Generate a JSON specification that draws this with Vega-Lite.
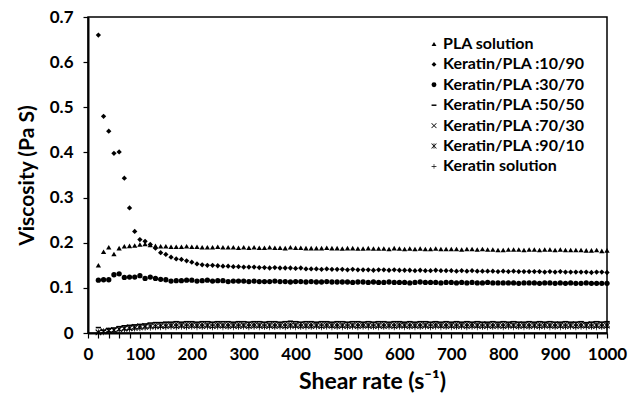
{
  "$schema": "https://vega.github.io/schema/vega-lite/v6.json",
  "width": 519,
  "height": 316,
  "autosize": {"type": "none"},
  "padding": {"left": 88, "top": 17, "right": 21, "bottom": 70},
  "background": "white",
  "config": {
    "font": "Lato",
    "view": {"stroke": "black", "strokeWidth": 1.5},
    "axis": {"grid": false, "domainColor": "black", "domainWidth": 2, "tickColor": "black", "tickWidth": 1.2, "labelFont": "Lato", "labelFontWeight": "bold", "labelColor": "black", "titleFont": "Lato", "titleFontWeight": "bold", "titleColor": "black"}
  },
  "datasets": {
    "series": [
      {"s": "P", "name": "PLA solution"},
      {"s": "k1", "name": "Keratin/PLA :10/90"},
      {"s": "k3", "name": "Keratin/PLA :30/70"},
      {"s": "k5", "name": "Keratin/PLA :50/50"},
      {"s": "k7", "name": "Keratin/PLA :70/30"},
      {"s": "k9", "name": "Keratin/PLA :90/10"},
      {"s": "K", "name": "Keratin solution"}
    ],
    "rheology": [
      {"x":20,"s":"P","v":0.150},{"x":30,"s":"P","v":0.180},{"x":40,"s":"P","v":0.190},{"x":50,"s":"P","v":0.175},{"x":60,"s":"P","v":0.188},{"x":70,"s":"P","v":0.192},{"x":80,"s":"P","v":0.193},{"x":90,"s":"P","v":0.194},{"x":100,"s":"P","v":0.196},{"x":110,"s":"P","v":0.197},{"x":120,"s":"P","v":0.195},{"x":130,"s":"P","v":0.193},{"x":140,"s":"P","v":0.192},{"x":150,"s":"P","v":0.192},{"x":160,"s":"P","v":0.191},{"x":170,"s":"P","v":0.191},{"x":180,"s":"P","v":0.191},{"x":190,"s":"P","v":0.192},{"x":200,"s":"P","v":0.191},{"x":210,"s":"P","v":0.191},{"x":220,"s":"P","v":0.190},{"x":230,"s":"P","v":0.190},{"x":240,"s":"P","v":0.190},{"x":250,"s":"P","v":0.191},{"x":260,"s":"P","v":0.190},{"x":270,"s":"P","v":0.190},{"x":280,"s":"P","v":0.190},{"x":290,"s":"P","v":0.189},{"x":300,"s":"P","v":0.190},{"x":310,"s":"P","v":0.189},{"x":320,"s":"P","v":0.190},{"x":330,"s":"P","v":0.189},{"x":340,"s":"P","v":0.189},{"x":350,"s":"P","v":0.190},{"x":360,"s":"P","v":0.189},{"x":370,"s":"P","v":0.189},{"x":380,"s":"P","v":0.188},{"x":390,"s":"P","v":0.190},{"x":400,"s":"P","v":0.189},{"x":410,"s":"P","v":0.189},{"x":420,"s":"P","v":0.188},{"x":430,"s":"P","v":0.188},{"x":440,"s":"P","v":0.188},{"x":450,"s":"P","v":0.188},{"x":460,"s":"P","v":0.189},{"x":470,"s":"P","v":0.188},{"x":480,"s":"P","v":0.188},{"x":490,"s":"P","v":0.187},{"x":500,"s":"P","v":0.188},{"x":510,"s":"P","v":0.188},{"x":520,"s":"P","v":0.187},{"x":530,"s":"P","v":0.187},{"x":540,"s":"P","v":0.188},{"x":550,"s":"P","v":0.187},{"x":560,"s":"P","v":0.187},{"x":570,"s":"P","v":0.187},{"x":580,"s":"P","v":0.186},{"x":590,"s":"P","v":0.188},{"x":600,"s":"P","v":0.187},{"x":610,"s":"P","v":0.186},{"x":620,"s":"P","v":0.187},{"x":630,"s":"P","v":0.186},{"x":640,"s":"P","v":0.187},{"x":650,"s":"P","v":0.186},{"x":660,"s":"P","v":0.186},{"x":670,"s":"P","v":0.187},{"x":680,"s":"P","v":0.186},{"x":690,"s":"P","v":0.186},{"x":700,"s":"P","v":0.186},{"x":710,"s":"P","v":0.186},{"x":720,"s":"P","v":0.185},{"x":730,"s":"P","v":0.186},{"x":740,"s":"P","v":0.186},{"x":750,"s":"P","v":0.185},{"x":760,"s":"P","v":0.186},{"x":770,"s":"P","v":0.185},{"x":780,"s":"P","v":0.185},{"x":790,"s":"P","v":0.184},{"x":800,"s":"P","v":0.184},{"x":810,"s":"P","v":0.185},{"x":820,"s":"P","v":0.185},{"x":830,"s":"P","v":0.185},{"x":840,"s":"P","v":0.184},{"x":850,"s":"P","v":0.185},{"x":860,"s":"P","v":0.185},{"x":870,"s":"P","v":0.184},{"x":880,"s":"P","v":0.185},{"x":890,"s":"P","v":0.185},{"x":900,"s":"P","v":0.184},{"x":910,"s":"P","v":0.185},{"x":920,"s":"P","v":0.184},{"x":930,"s":"P","v":0.184},{"x":940,"s":"P","v":0.184},{"x":950,"s":"P","v":0.184},{"x":960,"s":"P","v":0.183},{"x":970,"s":"P","v":0.183},{"x":980,"s":"P","v":0.184},{"x":990,"s":"P","v":0.182},{"x":1000,"s":"P","v":0.183},

      {"x":20,"s":"k1","v":0.660},{"x":30,"s":"k1","v":0.480},{"x":40,"s":"k1","v":0.447},{"x":50,"s":"k1","v":0.398},{"x":60,"s":"k1","v":0.401},{"x":70,"s":"k1","v":0.343},{"x":80,"s":"k1","v":0.277},{"x":90,"s":"k1","v":0.225},{"x":100,"s":"k1","v":0.207},{"x":110,"s":"k1","v":0.203},{"x":120,"s":"k1","v":0.196},{"x":130,"s":"k1","v":0.188},{"x":140,"s":"k1","v":0.178},{"x":150,"s":"k1","v":0.174},{"x":160,"s":"k1","v":0.168},{"x":170,"s":"k1","v":0.164},{"x":180,"s":"k1","v":0.163},{"x":190,"s":"k1","v":0.160},{"x":200,"s":"k1","v":0.157},{"x":210,"s":"k1","v":0.153},{"x":220,"s":"k1","v":0.151},{"x":230,"s":"k1","v":0.150},{"x":240,"s":"k1","v":0.150},{"x":250,"s":"k1","v":0.149},{"x":260,"s":"k1","v":0.148},{"x":270,"s":"k1","v":0.148},{"x":280,"s":"k1","v":0.147},{"x":290,"s":"k1","v":0.147},{"x":300,"s":"k1","v":0.146},{"x":310,"s":"k1","v":0.146},{"x":320,"s":"k1","v":0.146},{"x":330,"s":"k1","v":0.145},{"x":340,"s":"k1","v":0.145},{"x":350,"s":"k1","v":0.144},{"x":360,"s":"k1","v":0.145},{"x":370,"s":"k1","v":0.144},{"x":380,"s":"k1","v":0.144},{"x":390,"s":"k1","v":0.144},{"x":400,"s":"k1","v":0.143},{"x":410,"s":"k1","v":0.144},{"x":420,"s":"k1","v":0.142},{"x":430,"s":"k1","v":0.142},{"x":440,"s":"k1","v":0.142},{"x":450,"s":"k1","v":0.141},{"x":460,"s":"k1","v":0.142},{"x":470,"s":"k1","v":0.141},{"x":480,"s":"k1","v":0.141},{"x":490,"s":"k1","v":0.141},{"x":500,"s":"k1","v":0.140},{"x":510,"s":"k1","v":0.141},{"x":520,"s":"k1","v":0.140},{"x":530,"s":"k1","v":0.140},{"x":540,"s":"k1","v":0.140},{"x":550,"s":"k1","v":0.139},{"x":560,"s":"k1","v":0.140},{"x":570,"s":"k1","v":0.140},{"x":580,"s":"k1","v":0.139},{"x":590,"s":"k1","v":0.140},{"x":600,"s":"k1","v":0.139},{"x":610,"s":"k1","v":0.139},{"x":620,"s":"k1","v":0.139},{"x":630,"s":"k1","v":0.138},{"x":640,"s":"k1","v":0.139},{"x":650,"s":"k1","v":0.138},{"x":660,"s":"k1","v":0.138},{"x":670,"s":"k1","v":0.139},{"x":680,"s":"k1","v":0.138},{"x":690,"s":"k1","v":0.138},{"x":700,"s":"k1","v":0.138},{"x":710,"s":"k1","v":0.137},{"x":720,"s":"k1","v":0.138},{"x":730,"s":"k1","v":0.137},{"x":740,"s":"k1","v":0.138},{"x":750,"s":"k1","v":0.137},{"x":760,"s":"k1","v":0.137},{"x":770,"s":"k1","v":0.137},{"x":780,"s":"k1","v":0.137},{"x":790,"s":"k1","v":0.136},{"x":800,"s":"k1","v":0.137},{"x":810,"s":"k1","v":0.136},{"x":820,"s":"k1","v":0.137},{"x":830,"s":"k1","v":0.136},{"x":840,"s":"k1","v":0.136},{"x":850,"s":"k1","v":0.136},{"x":860,"s":"k1","v":0.136},{"x":870,"s":"k1","v":0.136},{"x":880,"s":"k1","v":0.135},{"x":890,"s":"k1","v":0.136},{"x":900,"s":"k1","v":0.135},{"x":910,"s":"k1","v":0.136},{"x":920,"s":"k1","v":0.135},{"x":930,"s":"k1","v":0.135},{"x":940,"s":"k1","v":0.135},{"x":950,"s":"k1","v":0.135},{"x":960,"s":"k1","v":0.135},{"x":970,"s":"k1","v":0.134},{"x":980,"s":"k1","v":0.135},{"x":990,"s":"k1","v":0.135},{"x":1000,"s":"k1","v":0.134},

      {"x":20,"s":"k3","v":0.117},{"x":30,"s":"k3","v":0.118},{"x":40,"s":"k3","v":0.118},{"x":50,"s":"k3","v":0.129},{"x":60,"s":"k3","v":0.131},{"x":70,"s":"k3","v":0.123},{"x":80,"s":"k3","v":0.124},{"x":90,"s":"k3","v":0.124},{"x":100,"s":"k3","v":0.127},{"x":110,"s":"k3","v":0.121},{"x":120,"s":"k3","v":0.124},{"x":130,"s":"k3","v":0.121},{"x":140,"s":"k3","v":0.119},{"x":150,"s":"k3","v":0.118},{"x":160,"s":"k3","v":0.115},{"x":170,"s":"k3","v":0.116},{"x":180,"s":"k3","v":0.116},{"x":190,"s":"k3","v":0.117},{"x":200,"s":"k3","v":0.117},{"x":210,"s":"k3","v":0.115},{"x":220,"s":"k3","v":0.116},{"x":230,"s":"k3","v":0.117},{"x":240,"s":"k3","v":0.115},{"x":250,"s":"k3","v":0.116},{"x":260,"s":"k3","v":0.116},{"x":270,"s":"k3","v":0.114},{"x":280,"s":"k3","v":0.115},{"x":290,"s":"k3","v":0.115},{"x":300,"s":"k3","v":0.115},{"x":310,"s":"k3","v":0.114},{"x":320,"s":"k3","v":0.115},{"x":330,"s":"k3","v":0.114},{"x":340,"s":"k3","v":0.114},{"x":350,"s":"k3","v":0.114},{"x":360,"s":"k3","v":0.115},{"x":370,"s":"k3","v":0.114},{"x":380,"s":"k3","v":0.114},{"x":390,"s":"k3","v":0.113},{"x":400,"s":"k3","v":0.114},{"x":410,"s":"k3","v":0.114},{"x":420,"s":"k3","v":0.113},{"x":430,"s":"k3","v":0.114},{"x":440,"s":"k3","v":0.113},{"x":450,"s":"k3","v":0.113},{"x":460,"s":"k3","v":0.114},{"x":470,"s":"k3","v":0.113},{"x":480,"s":"k3","v":0.113},{"x":490,"s":"k3","v":0.113},{"x":500,"s":"k3","v":0.113},{"x":510,"s":"k3","v":0.112},{"x":520,"s":"k3","v":0.113},{"x":530,"s":"k3","v":0.113},{"x":540,"s":"k3","v":0.112},{"x":550,"s":"k3","v":0.113},{"x":560,"s":"k3","v":0.112},{"x":570,"s":"k3","v":0.112},{"x":580,"s":"k3","v":0.113},{"x":590,"s":"k3","v":0.112},{"x":600,"s":"k3","v":0.112},{"x":610,"s":"k3","v":0.112},{"x":620,"s":"k3","v":0.111},{"x":630,"s":"k3","v":0.112},{"x":640,"s":"k3","v":0.113},{"x":650,"s":"k3","v":0.112},{"x":660,"s":"k3","v":0.112},{"x":670,"s":"k3","v":0.112},{"x":680,"s":"k3","v":0.111},{"x":690,"s":"k3","v":0.112},{"x":700,"s":"k3","v":0.112},{"x":710,"s":"k3","v":0.111},{"x":720,"s":"k3","v":0.112},{"x":730,"s":"k3","v":0.111},{"x":740,"s":"k3","v":0.112},{"x":750,"s":"k3","v":0.111},{"x":760,"s":"k3","v":0.111},{"x":770,"s":"k3","v":0.112},{"x":780,"s":"k3","v":0.111},{"x":790,"s":"k3","v":0.111},{"x":800,"s":"k3","v":0.111},{"x":810,"s":"k3","v":0.111},{"x":820,"s":"k3","v":0.111},{"x":830,"s":"k3","v":0.110},{"x":840,"s":"k3","v":0.111},{"x":850,"s":"k3","v":0.111},{"x":860,"s":"k3","v":0.111},{"x":870,"s":"k3","v":0.110},{"x":880,"s":"k3","v":0.111},{"x":890,"s":"k3","v":0.111},{"x":900,"s":"k3","v":0.110},{"x":910,"s":"k3","v":0.111},{"x":920,"s":"k3","v":0.110},{"x":930,"s":"k3","v":0.111},{"x":940,"s":"k3","v":0.110},{"x":950,"s":"k3","v":0.110},{"x":960,"s":"k3","v":0.111},{"x":970,"s":"k3","v":0.110},{"x":980,"s":"k3","v":0.110},{"x":990,"s":"k3","v":0.110},{"x":1000,"s":"k3","v":0.110},

      {"x":20,"s":"k5","v":0.012},{"x":30,"s":"k5","v":0.006},{"x":40,"s":"k5","v":0.010},{"x":50,"s":"k5","v":0.011},{"x":60,"s":"k5","v":0.014},{"x":70,"s":"k5","v":0.016},{"x":80,"s":"k5","v":0.017},{"x":90,"s":"k5","v":0.018},{"x":100,"s":"k5","v":0.019},{"x":110,"s":"k5","v":0.020},{"x":120,"s":"k5","v":0.022},{"x":130,"s":"k5","v":0.023},{"x":140,"s":"k5","v":0.023},{"x":150,"s":"k5","v":0.024},{"x":160,"s":"k5","v":0.024},{"x":170,"s":"k5","v":0.025},{"x":180,"s":"k5","v":0.024},{"x":190,"s":"k5","v":0.025},{"x":200,"s":"k5","v":0.025},{"x":210,"s":"k5","v":0.024},{"x":220,"s":"k5","v":0.025},{"x":230,"s":"k5","v":0.025},{"x":240,"s":"k5","v":0.024},{"x":250,"s":"k5","v":0.025},{"x":260,"s":"k5","v":0.025},{"x":270,"s":"k5","v":0.025},{"x":280,"s":"k5","v":0.024},{"x":290,"s":"k5","v":0.025},{"x":300,"s":"k5","v":0.025},{"x":310,"s":"k5","v":0.024},{"x":320,"s":"k5","v":0.025},{"x":330,"s":"k5","v":0.025},{"x":340,"s":"k5","v":0.024},{"x":350,"s":"k5","v":0.025},{"x":360,"s":"k5","v":0.025},{"x":370,"s":"k5","v":0.024},{"x":380,"s":"k5","v":0.025},{"x":390,"s":"k5","v":0.026},{"x":400,"s":"k5","v":0.025},{"x":410,"s":"k5","v":0.024},{"x":420,"s":"k5","v":0.025},{"x":430,"s":"k5","v":0.025},{"x":440,"s":"k5","v":0.024},{"x":450,"s":"k5","v":0.025},{"x":460,"s":"k5","v":0.025},{"x":470,"s":"k5","v":0.024},{"x":480,"s":"k5","v":0.025},{"x":490,"s":"k5","v":0.025},{"x":500,"s":"k5","v":0.024},{"x":510,"s":"k5","v":0.025},{"x":520,"s":"k5","v":0.025},{"x":530,"s":"k5","v":0.024},{"x":540,"s":"k5","v":0.025},{"x":550,"s":"k5","v":0.024},{"x":560,"s":"k5","v":0.025},{"x":570,"s":"k5","v":0.025},{"x":580,"s":"k5","v":0.024},{"x":590,"s":"k5","v":0.025},{"x":600,"s":"k5","v":0.025},{"x":610,"s":"k5","v":0.024},{"x":620,"s":"k5","v":0.025},{"x":630,"s":"k5","v":0.024},{"x":640,"s":"k5","v":0.025},{"x":650,"s":"k5","v":0.025},{"x":660,"s":"k5","v":0.024},{"x":670,"s":"k5","v":0.025},{"x":680,"s":"k5","v":0.024},{"x":690,"s":"k5","v":0.025},{"x":700,"s":"k5","v":0.024},{"x":710,"s":"k5","v":0.025},{"x":720,"s":"k5","v":0.024},{"x":730,"s":"k5","v":0.025},{"x":740,"s":"k5","v":0.024},{"x":750,"s":"k5","v":0.025},{"x":760,"s":"k5","v":0.024},{"x":770,"s":"k5","v":0.024},{"x":780,"s":"k5","v":0.025},{"x":790,"s":"k5","v":0.024},{"x":800,"s":"k5","v":0.025},{"x":810,"s":"k5","v":0.024},{"x":820,"s":"k5","v":0.025},{"x":830,"s":"k5","v":0.024},{"x":840,"s":"k5","v":0.024},{"x":850,"s":"k5","v":0.025},{"x":860,"s":"k5","v":0.024},{"x":870,"s":"k5","v":0.025},{"x":880,"s":"k5","v":0.024},{"x":890,"s":"k5","v":0.025},{"x":900,"s":"k5","v":0.024},{"x":910,"s":"k5","v":0.024},{"x":920,"s":"k5","v":0.025},{"x":930,"s":"k5","v":0.024},{"x":940,"s":"k5","v":0.024},{"x":950,"s":"k5","v":0.025},{"x":960,"s":"k5","v":0.023},{"x":970,"s":"k5","v":0.024},{"x":980,"s":"k5","v":0.025},{"x":990,"s":"k5","v":0.024},{"x":1000,"s":"k5","v":0.025},

      {"x":20,"s":"k7","v":0.001},{"x":30,"s":"k7","v":0.003},{"x":40,"s":"k7","v":0.005},{"x":50,"s":"k7","v":0.007},{"x":60,"s":"k7","v":0.009},{"x":70,"s":"k7","v":0.011},{"x":80,"s":"k7","v":0.013},{"x":90,"s":"k7","v":0.014},{"x":100,"s":"k7","v":0.015},{"x":110,"s":"k7","v":0.016},{"x":120,"s":"k7","v":0.017},{"x":130,"s":"k7","v":0.018},{"x":140,"s":"k7","v":0.018},{"x":150,"s":"k7","v":0.019},{"x":160,"s":"k7","v":0.019},{"x":170,"s":"k7","v":0.020},{"x":180,"s":"k7","v":0.019},{"x":190,"s":"k7","v":0.020},{"x":200,"s":"k7","v":0.020},{"x":210,"s":"k7","v":0.019},{"x":220,"s":"k7","v":0.020},{"x":230,"s":"k7","v":0.019},{"x":240,"s":"k7","v":0.020},{"x":250,"s":"k7","v":0.020},{"x":260,"s":"k7","v":0.019},{"x":270,"s":"k7","v":0.020},{"x":280,"s":"k7","v":0.019},{"x":290,"s":"k7","v":0.020},{"x":300,"s":"k7","v":0.019},{"x":310,"s":"k7","v":0.020},{"x":320,"s":"k7","v":0.020},{"x":330,"s":"k7","v":0.019},{"x":340,"s":"k7","v":0.020},{"x":350,"s":"k7","v":0.019},{"x":360,"s":"k7","v":0.020},{"x":370,"s":"k7","v":0.019},{"x":380,"s":"k7","v":0.020},{"x":390,"s":"k7","v":0.020},{"x":400,"s":"k7","v":0.019},{"x":410,"s":"k7","v":0.020},{"x":420,"s":"k7","v":0.019},{"x":430,"s":"k7","v":0.020},{"x":440,"s":"k7","v":0.019},{"x":450,"s":"k7","v":0.020},{"x":460,"s":"k7","v":0.020},{"x":470,"s":"k7","v":0.019},{"x":480,"s":"k7","v":0.020},{"x":490,"s":"k7","v":0.019},{"x":500,"s":"k7","v":0.020},{"x":510,"s":"k7","v":0.019},{"x":520,"s":"k7","v":0.020},{"x":530,"s":"k7","v":0.020},{"x":540,"s":"k7","v":0.019},{"x":550,"s":"k7","v":0.020},{"x":560,"s":"k7","v":0.019},{"x":570,"s":"k7","v":0.020},{"x":580,"s":"k7","v":0.019},{"x":590,"s":"k7","v":0.020},{"x":600,"s":"k7","v":0.020},{"x":610,"s":"k7","v":0.019},{"x":620,"s":"k7","v":0.020},{"x":630,"s":"k7","v":0.019},{"x":640,"s":"k7","v":0.020},{"x":650,"s":"k7","v":0.019},{"x":660,"s":"k7","v":0.020},{"x":670,"s":"k7","v":0.020},{"x":680,"s":"k7","v":0.019},{"x":690,"s":"k7","v":0.020},{"x":700,"s":"k7","v":0.019},{"x":710,"s":"k7","v":0.020},{"x":720,"s":"k7","v":0.019},{"x":730,"s":"k7","v":0.020},{"x":740,"s":"k7","v":0.020},{"x":750,"s":"k7","v":0.019},{"x":760,"s":"k7","v":0.020},{"x":770,"s":"k7","v":0.019},{"x":780,"s":"k7","v":0.020},{"x":790,"s":"k7","v":0.019},{"x":800,"s":"k7","v":0.020},{"x":810,"s":"k7","v":0.020},{"x":820,"s":"k7","v":0.019},{"x":830,"s":"k7","v":0.020},{"x":840,"s":"k7","v":0.019},{"x":850,"s":"k7","v":0.020},{"x":860,"s":"k7","v":0.019},{"x":870,"s":"k7","v":0.020},{"x":880,"s":"k7","v":0.020},{"x":890,"s":"k7","v":0.019},{"x":900,"s":"k7","v":0.020},{"x":910,"s":"k7","v":0.019},{"x":920,"s":"k7","v":0.020},{"x":930,"s":"k7","v":0.019},{"x":940,"s":"k7","v":0.020},{"x":950,"s":"k7","v":0.020},{"x":960,"s":"k7","v":0.019},{"x":970,"s":"k7","v":0.020},{"x":980,"s":"k7","v":0.019},{"x":990,"s":"k7","v":0.020},{"x":1000,"s":"k7","v":0.019},

      {"x":20,"s":"k9","v":0.002},{"x":30,"s":"k9","v":0.004},{"x":40,"s":"k9","v":0.005},{"x":50,"s":"k9","v":0.006},{"x":60,"s":"k9","v":0.008},{"x":70,"s":"k9","v":0.009},{"x":80,"s":"k9","v":0.010},{"x":90,"s":"k9","v":0.011},{"x":100,"s":"k9","v":0.012},{"x":110,"s":"k9","v":0.013},{"x":120,"s":"k9","v":0.014},{"x":130,"s":"k9","v":0.014},{"x":140,"s":"k9","v":0.015},{"x":150,"s":"k9","v":0.015},{"x":160,"s":"k9","v":0.016},{"x":170,"s":"k9","v":0.015},{"x":180,"s":"k9","v":0.016},{"x":190,"s":"k9","v":0.015},{"x":200,"s":"k9","v":0.016},{"x":210,"s":"k9","v":0.016},{"x":220,"s":"k9","v":0.015},{"x":230,"s":"k9","v":0.016},{"x":240,"s":"k9","v":0.015},{"x":250,"s":"k9","v":0.016},{"x":260,"s":"k9","v":0.016},{"x":270,"s":"k9","v":0.015},{"x":280,"s":"k9","v":0.016},{"x":290,"s":"k9","v":0.015},{"x":300,"s":"k9","v":0.016},{"x":310,"s":"k9","v":0.015},{"x":320,"s":"k9","v":0.016},{"x":330,"s":"k9","v":0.016},{"x":340,"s":"k9","v":0.015},{"x":350,"s":"k9","v":0.016},{"x":360,"s":"k9","v":0.015},{"x":370,"s":"k9","v":0.016},{"x":380,"s":"k9","v":0.015},{"x":390,"s":"k9","v":0.016},{"x":400,"s":"k9","v":0.016},{"x":410,"s":"k9","v":0.015},{"x":420,"s":"k9","v":0.016},{"x":430,"s":"k9","v":0.015},{"x":440,"s":"k9","v":0.016},{"x":450,"s":"k9","v":0.015},{"x":460,"s":"k9","v":0.016},{"x":470,"s":"k9","v":0.016},{"x":480,"s":"k9","v":0.015},{"x":490,"s":"k9","v":0.016},{"x":500,"s":"k9","v":0.015},{"x":510,"s":"k9","v":0.016},{"x":520,"s":"k9","v":0.015},{"x":530,"s":"k9","v":0.016},{"x":540,"s":"k9","v":0.016},{"x":550,"s":"k9","v":0.015},{"x":560,"s":"k9","v":0.016},{"x":570,"s":"k9","v":0.015},{"x":580,"s":"k9","v":0.016},{"x":590,"s":"k9","v":0.015},{"x":600,"s":"k9","v":0.016},{"x":610,"s":"k9","v":0.016},{"x":620,"s":"k9","v":0.015},{"x":630,"s":"k9","v":0.016},{"x":640,"s":"k9","v":0.015},{"x":650,"s":"k9","v":0.016},{"x":660,"s":"k9","v":0.015},{"x":670,"s":"k9","v":0.016},{"x":680,"s":"k9","v":0.016},{"x":690,"s":"k9","v":0.015},{"x":700,"s":"k9","v":0.016},{"x":710,"s":"k9","v":0.015},{"x":720,"s":"k9","v":0.016},{"x":730,"s":"k9","v":0.015},{"x":740,"s":"k9","v":0.016},{"x":750,"s":"k9","v":0.016},{"x":760,"s":"k9","v":0.015},{"x":770,"s":"k9","v":0.016},{"x":780,"s":"k9","v":0.015},{"x":790,"s":"k9","v":0.016},{"x":800,"s":"k9","v":0.015},{"x":810,"s":"k9","v":0.016},{"x":820,"s":"k9","v":0.016},{"x":830,"s":"k9","v":0.015},{"x":840,"s":"k9","v":0.016},{"x":850,"s":"k9","v":0.015},{"x":860,"s":"k9","v":0.016},{"x":870,"s":"k9","v":0.015},{"x":880,"s":"k9","v":0.016},{"x":890,"s":"k9","v":0.016},{"x":900,"s":"k9","v":0.015},{"x":910,"s":"k9","v":0.016},{"x":920,"s":"k9","v":0.015},{"x":930,"s":"k9","v":0.016},{"x":940,"s":"k9","v":0.015},{"x":950,"s":"k9","v":0.016},{"x":960,"s":"k9","v":0.016},{"x":970,"s":"k9","v":0.015},{"x":980,"s":"k9","v":0.016},{"x":990,"s":"k9","v":0.015},{"x":1000,"s":"k9","v":0.016},

      {"x":20,"s":"K","v":0.000},{"x":30,"s":"K","v":0.001},{"x":40,"s":"K","v":0.003},{"x":50,"s":"K","v":0.004},{"x":60,"s":"K","v":0.006},{"x":70,"s":"K","v":0.007},{"x":80,"s":"K","v":0.008},{"x":90,"s":"K","v":0.009},{"x":100,"s":"K","v":0.010},{"x":110,"s":"K","v":0.011},{"x":120,"s":"K","v":0.011},{"x":130,"s":"K","v":0.012},{"x":140,"s":"K","v":0.012},{"x":150,"s":"K","v":0.012},{"x":160,"s":"K","v":0.013},{"x":170,"s":"K","v":0.012},{"x":180,"s":"K","v":0.013},{"x":190,"s":"K","v":0.012},{"x":200,"s":"K","v":0.013},{"x":210,"s":"K","v":0.012},{"x":220,"s":"K","v":0.013},{"x":230,"s":"K","v":0.013},{"x":240,"s":"K","v":0.012},{"x":250,"s":"K","v":0.013},{"x":260,"s":"K","v":0.012},{"x":270,"s":"K","v":0.013},{"x":280,"s":"K","v":0.012},{"x":290,"s":"K","v":0.013},{"x":300,"s":"K","v":0.013},{"x":310,"s":"K","v":0.012},{"x":320,"s":"K","v":0.013},{"x":330,"s":"K","v":0.012},{"x":340,"s":"K","v":0.013},{"x":350,"s":"K","v":0.012},{"x":360,"s":"K","v":0.013},{"x":370,"s":"K","v":0.013},{"x":380,"s":"K","v":0.012},{"x":390,"s":"K","v":0.013},{"x":400,"s":"K","v":0.012},{"x":410,"s":"K","v":0.013},{"x":420,"s":"K","v":0.012},{"x":430,"s":"K","v":0.013},{"x":440,"s":"K","v":0.013},{"x":450,"s":"K","v":0.012},{"x":460,"s":"K","v":0.013},{"x":470,"s":"K","v":0.012},{"x":480,"s":"K","v":0.013},{"x":490,"s":"K","v":0.012},{"x":500,"s":"K","v":0.013},{"x":510,"s":"K","v":0.013},{"x":520,"s":"K","v":0.012},{"x":530,"s":"K","v":0.013},{"x":540,"s":"K","v":0.012},{"x":550,"s":"K","v":0.013},{"x":560,"s":"K","v":0.012},{"x":570,"s":"K","v":0.013},{"x":580,"s":"K","v":0.013},{"x":590,"s":"K","v":0.012},{"x":600,"s":"K","v":0.013},{"x":610,"s":"K","v":0.012},{"x":620,"s":"K","v":0.013},{"x":630,"s":"K","v":0.012},{"x":640,"s":"K","v":0.013},{"x":650,"s":"K","v":0.013},{"x":660,"s":"K","v":0.012},{"x":670,"s":"K","v":0.013},{"x":680,"s":"K","v":0.012},{"x":690,"s":"K","v":0.013},{"x":700,"s":"K","v":0.012},{"x":710,"s":"K","v":0.013},{"x":720,"s":"K","v":0.013},{"x":730,"s":"K","v":0.012},{"x":740,"s":"K","v":0.013},{"x":750,"s":"K","v":0.012},{"x":760,"s":"K","v":0.013},{"x":770,"s":"K","v":0.012},{"x":780,"s":"K","v":0.013},{"x":790,"s":"K","v":0.013},{"x":800,"s":"K","v":0.012},{"x":810,"s":"K","v":0.013},{"x":820,"s":"K","v":0.012},{"x":830,"s":"K","v":0.013},{"x":840,"s":"K","v":0.012},{"x":850,"s":"K","v":0.013},{"x":860,"s":"K","v":0.013},{"x":870,"s":"K","v":0.012},{"x":880,"s":"K","v":0.013},{"x":890,"s":"K","v":0.012},{"x":900,"s":"K","v":0.013},{"x":910,"s":"K","v":0.012},{"x":920,"s":"K","v":0.013},{"x":930,"s":"K","v":0.013},{"x":940,"s":"K","v":0.012},{"x":950,"s":"K","v":0.013},{"x":960,"s":"K","v":0.012},{"x":970,"s":"K","v":0.013},{"x":980,"s":"K","v":0.012},{"x":990,"s":"K","v":0.013},{"x":1000,"s":"K","v":0.012}
    ]
  },
  "data": {"name": "rheology"},
  "transform": [
    {"lookup": "s", "from": {"data": {"name": "series"}, "key": "s", "fields": ["name"]}}
  ],
  "mark": {"type": "point", "filled": true, "color": "black", "size": 28, "opacity": 1},
  "encoding": {
    "x": {
      "field": "x", "type": "quantitative",
      "scale": {"domain": [0, 1000], "nice": false},
      "axis": {
        "title": "Shear rate (s⁻¹)",
        "titleFontSize": 23, "titleX": 284, "titlePadding": 8,
        "values": [0,20,40,60,80,100,120,140,160,180,200,220,240,260,280,300,320,340,360,380,400,420,440,460,480,500,520,540,560,580,600,620,640,660,680,700,720,740,760,780,800,820,840,860,880,900,920,940,960,980,1000],
        "labelExpr": "datum.value % 100 === 0 ? datum.label : ''",
        "labelOverlap": false, "labelFlush": false,
        "format": "d", "labelFontSize": 17, "labelPadding": 8, "tickSize": 5
      }
    },
    "y": {
      "field": "v", "type": "quantitative",
      "scale": {"domain": [0, 0.7], "nice": false},
      "axis": {
        "title": "Viscosity (Pa S)",
        "titleFontSize": 21, "titlePadding": 12,
        "values": [0, 0.1, 0.2, 0.3, 0.4, 0.5, 0.6, 0.7],
        "labelExpr": "datum.value === 0 ? '0' : format(datum.value, '.1f')",
        "labelFontSize": 17, "labelPadding": 10, "tickSize": 5
      }
    },
    "shape": {
      "field": "name", "type": "nominal",
      "scale": {
        "domain": ["PLA solution", "Keratin/PLA :10/90", "Keratin/PLA :30/70", "Keratin/PLA :50/50", "Keratin/PLA :70/30", "Keratin/PLA :90/10", "Keratin solution"],
        "range": [
          "triangle-up",
          "diamond",
          "circle",
          "M-1,-0.3L1,-0.3L1,0.3L-1,0.3Z",
          "M-0.894,-1.106L1.106,0.894L0.894,1.106L-1.106,-0.894ZM-0.894,1.106L-1.106,0.894L0.894,-1.106L1.106,-0.894Z",
          "M-0.894,-1.106L1.106,0.894L0.894,1.106L-1.106,-0.894ZM-0.894,1.106L-1.106,0.894L0.894,-1.106L1.106,-0.894ZM-0.13,-1.1L0.13,-1.1L0.13,1.1L-0.13,1.1Z",
          "M-1,-0.12L-0.12,-0.12L-0.12,-1L0.12,-1L0.12,-0.12L1,-0.12L1,0.12L0.12,0.12L0.12,1L-0.12,1L-0.12,0.12L-1,0.12Z"
        ]
      },
      "legend": {
        "title": null, "orient": "none", "legendX": 338, "legendY": 19,
        "labelFont": "Lato", "labelFontWeight": "bold", "labelFontSize": 16, "labelColor": "black", "labelLimit": 400,
        "labelOffset": 1, "rowPadding": 4.4, "symbolSize": 24,
        "symbolFillColor": "black", "symbolStrokeWidth": 0,
        "padding": 0
      }
    }
  }
}
